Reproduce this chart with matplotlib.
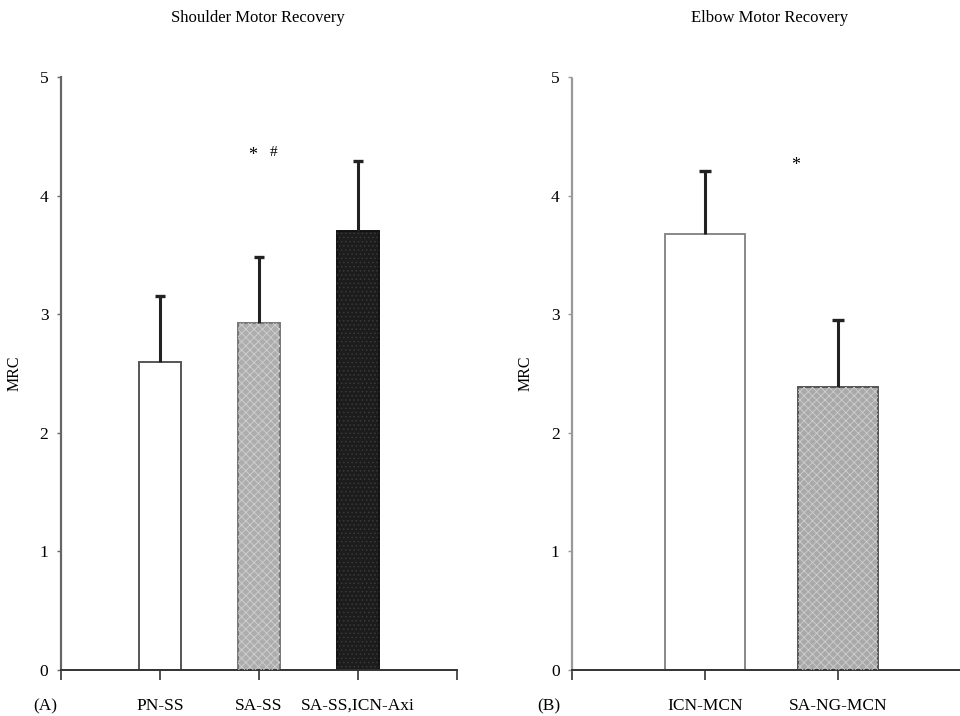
import matplotlib
matplotlib.use('Agg')
import matplotlib.pyplot as plt
import numpy as np

plt.rcParams['font.family'] = ['Liberation Serif', 'DejaVu Serif']
plt.rcParams['hatch.linewidth'] = 0.6

# Shoulder motor recovery (panel A)
shoulder_groups = ['PN-SS', 'SA-SS', 'SA-SS,ICN-Axi']
shoulder_mean = [2.6, 2.93, 3.7]
shoulder_err = [0.55, 0.55, 0.59]

# Elbow motor recovery (panel B)
elbow_groups = ['ICN-MCN', 'SA-NG-MCN']
elbow_mean = [3.68, 2.39]
elbow_err = [0.53, 0.56]

fig = plt.figure(figsize=(9.6, 7.16), dpi=100)


def style_axes(ax, n, ycol):
    ax.set_ylim(0, 5)
    ax.set_xlim(0, n + 1)
    ax.spines['top'].set_visible(False)
    ax.spines['right'].set_visible(False)
    ax.spines['left'].set_color(ycol)
    ax.spines['left'].set_linewidth(1.6)
    ax.spines['bottom'].set_color('#333333')
    ax.spines['bottom'].set_linewidth(1.4)
    ax.set_yticks(range(6))
    ax.set_xticks(range(n + 2))
    ax.tick_params(axis='y', direction='out', length=3, width=1, labelsize=12.5,
                   color=ycol, pad=6)
    ax.tick_params(axis='x', direction='out', length=7, width=1.2,
                   color='#333333', labelsize=12.5, pad=13)
    ax.set_ylabel('MRC', fontsize=11.5, labelpad=12)


def draw_bars(ax, means, errs, faces, edges, hatches, cap):
    x = np.arange(1, len(means) + 1)
    for xi, m, e, fc, ec, h in zip(x, means, errs, faces, edges, hatches):
        ax.bar(xi, m, width=ax_width[ax], color=fc, edgecolor=ec,
               linewidth=1.4, zorder=2)
        if h:
            ax.bar(xi, m, width=ax_width[ax], fill=False, hatch=h,
                   edgecolor=h_col[fc], linewidth=0, zorder=3)
        # upper error bar only
        ax.vlines(xi, m, m + e, color='#222222', lw=2.2, zorder=4)
        ax.hlines(m + e, xi - cap, xi + cap, color='#222222', lw=2.4, zorder=4)


h_col = {'#adadad': '#d0d0d0', '#a9a9a9': '#cfcfcf', '#1c1c1c': '#3a3a3a'}

ax1 = fig.add_axes([61 / 960, 46 / 716, 396 / 960, 593 / 716])
ax2 = fig.add_axes([572 / 960, 46 / 716, 399 / 960, 593 / 716])
ax_width = {ax1: 0.42, ax2: 0.6}

style_axes(ax1, 3, '#666666')
style_axes(ax2, 2, '#999999')
ax2.spines['left'].set_linestyle((0, (2, 1)))

draw_bars(ax1, shoulder_mean, shoulder_err,
          ['white', '#adadad', '#1c1c1c'],
          ['#555555', '#777777', '#111111'],
          [None, 'xxxx', '....'], 0.055)
draw_bars(ax2, elbow_mean, elbow_err,
          ['white', '#a9a9a9'],
          ['#888888', '#555555'],
          [None, 'xxxx'], 0.042)

ax1.set_xticklabels([''] + shoulder_groups + [''])
ax2.set_xticklabels([''] + elbow_groups + [''])

ax1.text(1.94, 4.34, '*', fontsize=13, ha='center', va='center')
ax1.text(2.15, 4.36, '#', fontsize=11, ha='center', va='center')
ax2.text(1.68, 4.25, '*', fontsize=13, ha='center', va='center')

fig.text(258 / 960, 1 - 18 / 716, 'Shoulder Motor Recovery', fontsize=12,
         ha='center', va='center')
fig.text(770 / 960, 1 - 18 / 716, 'Elbow Motor Recovery', fontsize=12,
         ha='center', va='center')
fig.text(45 / 960, 1 - 706 / 716, '(A)', fontsize=12.5, ha='center', va='center')
fig.text(549 / 960, 1 - 706 / 716, '(B)', fontsize=12.5, ha='center', va='center')

fig.savefig('out.png', dpi=100)
